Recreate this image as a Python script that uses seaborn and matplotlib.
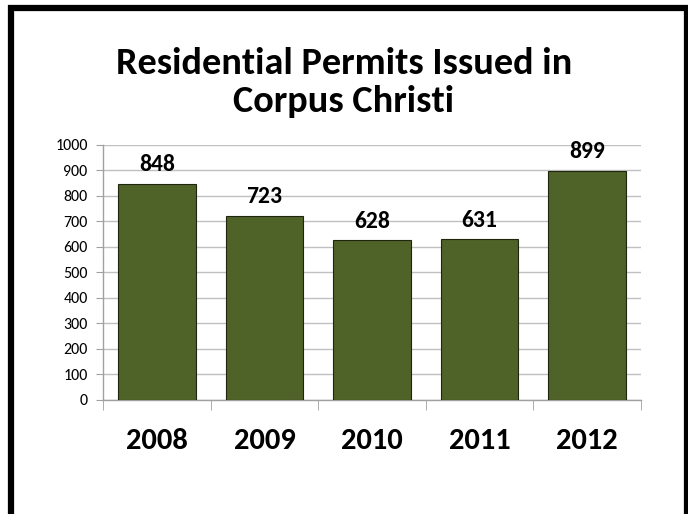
import matplotlib
matplotlib.use('Agg')
import numpy as np
import pandas as pd
import seaborn as sns
import matplotlib.pyplot as plt
from matplotlib.patches import Rectangle
from matplotlib import font_manager

sns.set_style('white')

# Calibri look-alike if there is one, otherwise Lato.
installed = {f.name for f in font_manager.fontManager.ttflist}
if 'Carlito' in installed:
    family, sizes = 'Carlito', dict(title=27.5, xlab=22, vals=17, ylab=11.5)
else:
    family, sizes = 'Lato', dict(title=27, xlab=19, vals=15, ylab=10.5)
plt.rcParams['font.family'] = [family, 'DejaVu Sans']
plt.rcParams['text.color'] = 'black'
plt.rcParams['xtick.color'] = 'black'
plt.rcParams['ytick.color'] = 'black'

# Data.
years = ['2008', '2009', '2010', '2011', '2012']
permits = [848, 723, 628, 631, 899]
df = pd.DataFrame({'year': years, 'permits': permits})

fig = plt.figure(figsize=(6.88, 5.14), dpi=100)
ax = fig.add_axes([0.1497, 0.2218, 0.7820, 0.4961])

sns.barplot(data=df, x='year', y='permits', color='#4F6228', saturation=1,
            width=0.72, edgecolor='#1f260f', linewidth=0.8, ax=ax, zorder=3)

ax.set_ylim(0, 1000)
ax.set_xlim(-0.5, 4.5)
ax.set_yticks(range(0, 1001, 100))
ax.yaxis.grid(True, color='#c0c0c0', linewidth=1, zorder=0)
ax.set_xlabel('')
ax.set_ylabel('')

for side in ['top', 'right']:
    ax.spines[side].set_visible(False)
for side in ['left', 'bottom']:
    ax.spines[side].set_color('#a0a0a0')
    ax.spines[side].set_linewidth(1)

# Category boundary ticks on the x axis, y ticks to the left.
ax.set_xticks(np.arange(-0.5, 5, 1), minor=True)
ax.tick_params(axis='x', which='minor', length=7, color='#a0a0a0', direction='out', bottom=True)
ax.tick_params(axis='x', which='major', length=0, pad=20)
ax.tick_params(axis='y', length=5, color='#a0a0a0', labelcolor='black', direction='out',
               left=True, labelsize=sizes['ylab'], pad=6)
for lbl in ax.get_xticklabels():
    lbl.set_fontsize(sizes['xlab'])
    lbl.set_fontweight('bold')
    lbl.set_color('black')

ax.bar_label(ax.containers[0], fmt='%d', padding=6, fontsize=sizes['vals'],
             fontweight='bold', color='black')

fig.text(0.5, 0.84, 'Residential Permits Issued in\nCorpus Christi', ha='center', va='center',
         fontsize=sizes['title'], fontweight='bold', linespacing=1.2, color='black')

# Slide frame.
fig.patches.append(Rectangle((11 / 688, -0.1), (686.5 - 11) / 688, 1 - 8 / 514 + 0.1,
                             transform=fig.transFigure, fill=False, edgecolor='black',
                             linewidth=4.5, clip_on=False))

fig.savefig('out.png', dpi=100)
